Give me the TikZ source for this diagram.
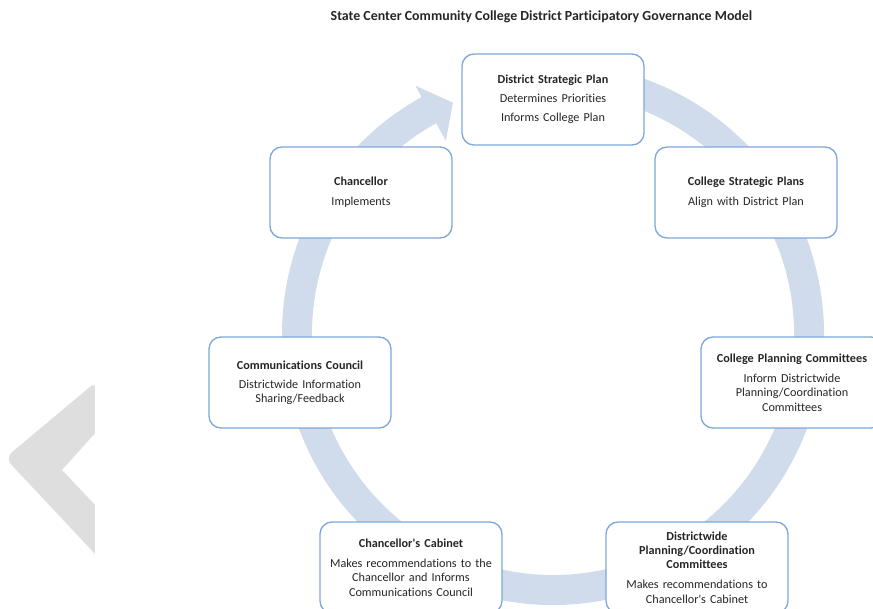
\documentclass[tikz,border=0pt]{standalone}
\usepackage{fontspec}
\setmainfont{Carlito}[Ligatures={NoCommon}]
\definecolor{ring}{HTML}{D0DCEC}
\definecolor{edge}{HTML}{7BA7DB}
\definecolor{chev}{HTML}{DEDEDE}
\definecolor{ink}{HTML}{262626}
\usetikzlibrary{positioning}
\tikzstyle{base}=[x=1pt, y=-1pt, outer sep=0pt]
\tikzstyle{box}=[draw=edge, line width=1.3pt, fill=white, rounded corners=12pt,
  minimum width=182pt, minimum height=91pt, text width=176pt, inner sep=3pt,
  align=center, text=ink, font=\fontsize{12.2}{14.2}\selectfont]
\tikzstyle{heading}=[inner sep=0pt, text=ink, font=\fontsize{13.9}{16}\selectfont\bfseries]

\begin{document}
\begin{tikzpicture}[base]
    \useasboundingbox (0,0) rectangle (873,609);
    \clip (0,0) rectangle (873,609);
    % grey chevron on the left
    \fill [chev, rounded corners=9pt] (5,458) -- (97,381) [sharp corners] -- (97,431) -- (62,470) -- (97,507) -- (97,556) [rounded corners=9pt] -- cycle;
    \fill [white] (95,370) rectangle (120,570);
    % cycle arrow
    \fill [ring, shift={(553,334)}] (-100:271) arc [start angle=-100, end angle=241, radius=271]
        -- (241:284) -- (246.6:252) -- (241:221) -- (241:241)
        arc [start angle=241, end angle=-100, radius=241] -- cycle;
    % steps
    \node [box] (dsp) at (553,99.5) {\textbf{District Strategic Plan}\\[5pt] Determines Priorities\\[5pt] Informs College Plan};
    \node [box] (csp) at (746,192.5) {\textbf{College Strategic Plans}\\[6pt] Align with District Plan};
    \node [box] (cpc) at (792,382.5) {\textbf{College Planning Committees}\\[6pt] Inform Districtwide\\ Planning/Coordination\\ Committees};
    \node [box] (dpc) at (697,567.5) {\textbf{Districtwide\\ Planning/Coordination\\ Committees}\\[6pt] Makes recommendations to\\ Chancellor\textquotesingle s Cabinet};
    \node [box] (cab) at (411,567.5) {\textbf{Chancellor\textquotesingle s Cabinet}\\[6pt] Makes recommendations to the\\ Chancellor and Informs\\ Communications Council};
    \node [box] (com) at (300,382.5) {\textbf{Communications Council}\\[5pt] Districtwide Information\\ Sharing/Feedback};
    \node [box] (chan) at (361,192.5) {\textbf{Chancellor}\\[6pt] Implements};
    \node [heading] (title) at (541.5,17) {State Center Community College District Participatory Governance Model};
\end{tikzpicture}
\end{document}
